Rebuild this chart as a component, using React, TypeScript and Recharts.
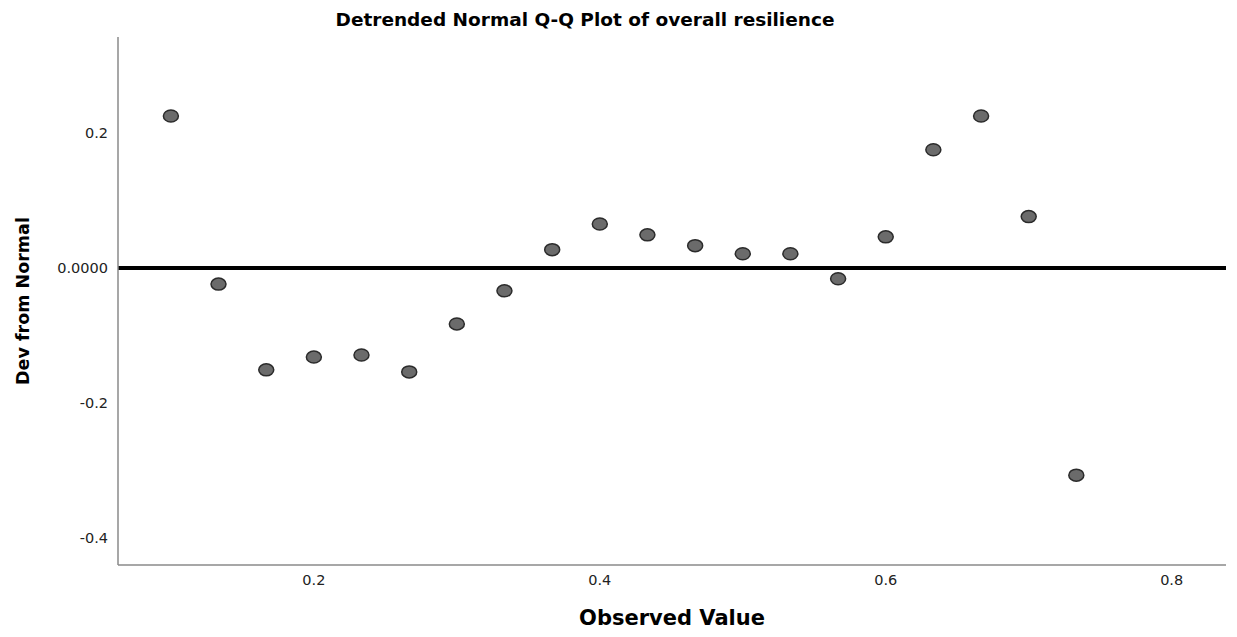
import { ScatterChart, Scatter, XAxis, YAxis, ReferenceLine } from 'recharts';

// observed values (steps of 1/30) and their deviation from normal
const observed = [
  0.1, 0.1333, 0.1667, 0.2, 0.2333, 0.2667, 0.3, 0.3333, 0.3667, 0.4,
  0.4333, 0.4667, 0.5, 0.5333, 0.5667, 0.6, 0.6333, 0.6667, 0.7, 0.7333,
];
const devFromNormal = [
  0.225, -0.024, -0.151, -0.132, -0.129, -0.154, -0.083, -0.034, 0.027, 0.065,
  0.049, 0.033, 0.021, 0.021, -0.016, 0.046, 0.175, 0.225, 0.076, -0.307,
];
const xTicks = [0.2, 0.4, 0.6, 0.8];
const yTicks = [-0.4, -0.2, 0, 0.2];

const points = observed.map((x, i) => ({ x, y: devFromNormal[i] }));

const font = '"DejaVu Sans", sans-serif';
const tickStyle = { fontSize: 14.5, fill: '#222', fontFamily: font };

const Dot = (props: any) => (
  <ellipse cx={props.cx} cy={props.cy} rx={7.5} ry={6} fill="#6b6b6b" stroke="#2b2b2b" strokeWidth={1.5} />
);

export default function App() {
  return (
    <div style={{ position: 'absolute', left: 0, top: 0, width: 1237, height: 637, background: '#fff' }}>
      <div
        style={{
          position: 'absolute',
          left: 285,
          width: 600,
          top: 8,
          textAlign: 'center',
          fontFamily: font,
          fontWeight: 'bold',
          fontSize: 18.5,
          lineHeight: '24px',
          color: '#000',
        }}
      >
        Detrended Normal Q-Q Plot of overall resilience
      </div>
      <ScatterChart width={1237} height={637} margin={{ top: 37, right: 11, bottom: 42, left: 0 }}>
        <XAxis
          type="number"
          dataKey="x"
          domain={[0.063, 0.838]}
          ticks={xTicks}
          tickFormatter={(v: number) => v.toFixed(1)}
          tickLine={false}
          tickMargin={4}
          axisLine={{ stroke: '#8a8a8a', strokeWidth: 1.5 }}
          tick={tickStyle}
          height={30}
          allowDataOverflow
          label={{
            value: 'Observed Value',
            position: 'bottom',
            offset: 15,
            style: { fontFamily: font, fontWeight: 'bold', fontSize: 21, fill: '#000' },
          }}
        />
        <YAxis
          type="number"
          dataKey="y"
          domain={[-0.44, 0.342]}
          ticks={yTicks}
          tickFormatter={(v: number) => (v === 0 ? '0.0000' : v.toFixed(1))}
          tickLine={false}
          tickMargin={4}
          axisLine={{ stroke: '#8a8a8a', strokeWidth: 1.5 }}
          tick={tickStyle}
          width={118}
          allowDataOverflow
          label={{
            value: 'Dev from Normal',
            angle: -90,
            position: 'insideLeft',
            offset: 23,
            style: { fontFamily: font, fontWeight: 'bold', fontSize: 17.5, fill: '#000', textAnchor: 'middle' },
          }}
        />
        <ReferenceLine y={0} stroke="#000" strokeWidth={4} />
        <Scatter data={points} shape={Dot} isAnimationActive={false} />
      </ScatterChart>
    </div>
  );
}
